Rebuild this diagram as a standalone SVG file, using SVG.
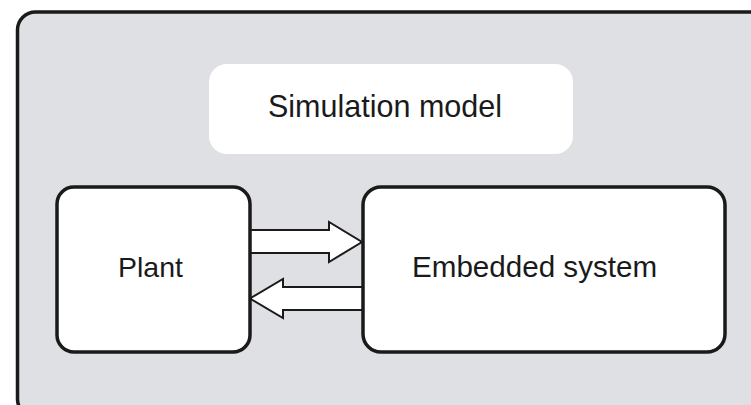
<svg xmlns="http://www.w3.org/2000/svg" width="751" height="405" viewBox="0 0 751 405">
  <style>
    .box { fill: #ffffff; stroke: #1a1a1a; stroke-width: 3.5; }
    .label { font-family: "Liberation Sans", Arial, sans-serif; fill: #1a1a1a; }
    .arrow { fill: #ffffff; stroke: #1a1a1a; stroke-width: 2; stroke-linejoin: miter; }
  </style>
  <rect width="751" height="405" fill="#ffffff"/>
  <g id="simulation-container">
    <rect x="17.5" y="12" width="760" height="405" rx="18" ry="18" fill="#dfe0e4" stroke="#1a1a1a" stroke-width="3.5"/>
  </g>
  <g id="simulation-model">
    <rect x="209" y="64" width="364" height="90" rx="18" ry="18" fill="#ffffff"/>
    <text class="label" x="268" y="117" font-size="30.5">Simulation model</text>
  </g>
  <g id="connectors">
    <polygon class="arrow" points="250,230 329,230 329,222 362,242 329,262 329,253 250,253"/>
    <polygon class="arrow" points="363,287 283,287 283,279 250,298.5 283,318 283,310 363,310"/>
  </g>
  <g id="plant">
    <rect class="box" x="57" y="187" width="193" height="165" rx="17" ry="17"/>
    <text class="label" x="118" y="277" font-size="28.5">Plant</text>
  </g>
  <g id="embedded-system">
    <rect class="box" x="363" y="187" width="362" height="165" rx="18" ry="18"/>
    <text class="label" x="412" y="277" font-size="29.6">Embedded system</text>
  </g>
</svg>
